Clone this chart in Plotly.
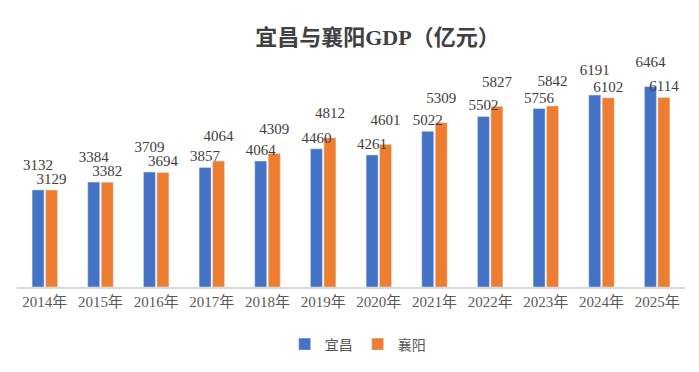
import plotly.graph_objects as go

years = ["2014年", "2015年", "2016年", "2017年", "2018年", "2019年", "2020年",
         "2021年", "2022年", "2023年", "2024年", "2025年"]
yichang = [3132, 3384, 3709, 3857, 4064, 4460, 4261, 5022, 5502, 5756, 6191, 6464]
xiangyang = [3129, 3382, 3694, 4064, 4309, 4812, 4601, 5309, 5827, 5842, 6102, 6114]

lab_font = dict(family="Liberation Serif, Noto Sans CJK SC", size=15, color="#404040")
GAP = 0.515
RAISED, FLAT = 24, 2
# the taller bar of each pair gets its label lifted (as in the reference)
size_a = [RAISED if a > b else FLAT for a, b in zip(yichang, xiangyang)]
size_b = [RAISED if b > a else FLAT for a, b in zip(yichang, xiangyang)]

fig = go.Figure()
fig.add_trace(go.Bar(x=years, y=yichang, name="宜昌", marker_color="#4472C4",
                     offsetgroup="a", hoverinfo="skip"))
fig.add_trace(go.Bar(x=years, y=xiangyang, name="襄阳", marker_color="#ED7D31",
                     offsetgroup="b", hoverinfo="skip"))
# data labels
fig.add_trace(go.Scatter(x=years, y=yichang, mode="markers+text", text=yichang,
                         textposition="top center", textfont=lab_font,
                         marker=dict(size=size_a, opacity=0), offsetgroup="a",
                         showlegend=False, cliponaxis=False, hoverinfo="skip"))
fig.add_trace(go.Scatter(x=years, y=xiangyang, mode="markers+text", text=xiangyang,
                         textposition="top center", textfont=lab_font,
                         marker=dict(size=size_b, opacity=0), offsetgroup="b",
                         showlegend=False, cliponaxis=False, hoverinfo="skip"))

fig.update_layout(
    width=699, height=372,
    paper_bgcolor="white", plot_bgcolor="white",
    title=dict(text="<b>宜昌与襄阳GDP（亿元）</b>", x=0.54, xanchor="center", y=0.9, yanchor="middle",
               font=dict(family="Liberation Serif, Noto Sans CJK SC", size=22, color="#404040")),
    margin=dict(l=17, r=14, t=70, b=81),
    barmode="group", bargap=GAP, bargroupgap=0.11,
    scattermode="group", scattergap=GAP,
    showlegend=True,
    legend=dict(orientation="h", x=0.51, xanchor="center", y=-0.265, yanchor="middle",
                font=dict(family="Noto Sans CJK SC", size=14, color="#595959"),
                itemwidth=30),
    xaxis=dict(showline=True, linecolor="#D9D9D9", linewidth=2, ticks="",
               tickfont=dict(family="Liberation Serif, Noto Sans CJK SC", size=15, color="#595959")),
    yaxis=dict(range=[0, 7000], visible=False, showgrid=False),
)

fig.write_html("out.html", config={"displayModeBar": False},
               post_script="document.body.style.margin='0';")
